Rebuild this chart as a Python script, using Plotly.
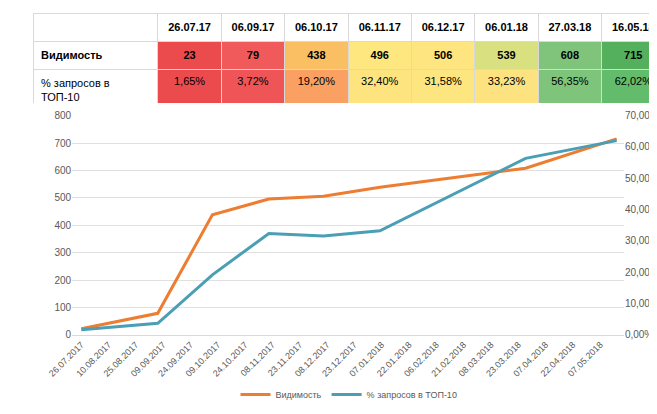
import plotly.graph_objects as go

dates = ["2017-07-26", "2017-09-06", "2017-10-06", "2017-11-06", "2017-12-06", "2018-01-06", "2018-03-27", "2018-05-16"]
col_labels = ["26.07.17", "06.09.17", "06.10.17", "06.11.17", "06.12.17", "06.01.18", "27.03.18", "16.05.18"]
vis = [23, 79, 438, 496, 506, 539, 608, 715]
top10 = [1.65, 3.72, 19.20, 32.40, 31.58, 33.23, 56.35, 62.02]
pos = [90.28, 62.61, 38.48, 27.41, 40.16, 41.46, 13.96, 11.77]
pct_ticks = [0, 10, 20, 30, 40, 50, 60, 70]

vis_col = ["#ec4b4e", "#f05a5a", "#fbbf63", "#ffe77f", "#ffe580", "#d8e07f", "#80c47b", "#55b05e"]
top_col = ["#ec4b4e", "#ef5456", "#f9a062", "#fde47f", "#fde680", "#fde37f", "#7ec47b", "#63bb6c"]
pos_col = ["#ec4b4e", "#f9a25f", "#fde682", "#b8d87d", "#fde580", "#fde27f", "#72c178", "#62bb6b"]

def fmt(v):
    return f"{v:.2f}".replace(".", ",")

cells = [["<b>Видимость</b>", "% запросов в ТОП-10", "ср. позиция", ""]]
colors = [["white"] * 4]
for i in range(len(dates)):
    cells.append([f"<b>{vis[i]}</b>", fmt(top10[i]) + "%", fmt(pos[i]), ""])
    colors.append([vis_col[i], top_col[i], pos_col[i], "white"])

fig = go.Figure()
fig.add_trace(go.Table(
    domain=dict(x=[0, 1], y=[0.775, 1]),
    columnwidth=[130] + [66] * 8,
    header=dict(values=[""] + [f"<b>{c}</b>" for c in col_labels], fill_color="white",
                line_color="#d9d9d9", height=17, align=["left"] + ["center"] * 8,
                font=dict(family="Liberation Sans", size=11, color="black")),
    cells=dict(values=cells, fill_color=colors, line_color="#d9d9d9", height=18,
               align=["left"] + ["center"] * 8,
               font=dict(family="Liberation Sans", size=11, color="black")),
))
fig.add_trace(go.Scatter(x=dates, y=vis, mode="lines", name="Видимость",
                         line=dict(color="#ed7d31", width=3)))
fig.add_trace(go.Scatter(x=dates, y=top10, mode="lines", name="% запросов в ТОП-10",
                         line=dict(color="#4a9fb5", width=3), yaxis="y2"))

fig.update_layout(
    width=657, height=414, paper_bgcolor="white", plot_bgcolor="white",
    margin=dict(l=0, r=0, t=0, b=0),
    font=dict(family="Liberation Sans", size=10, color="#595959"),
    xaxis=dict(domain=[0.062, 0.935], type="date", range=["2017-07-21", "2018-05-20"],
               tick0="2017-07-26", dtick=15 * 86400000, tickformat="%d.%m.%Y",
               tickangle=-45, showgrid=False, showline=True, linecolor="#d9d9d9",
               tickfont=dict(size=9)),
    yaxis=dict(domain=[0.203, 0.746], range=[0, 800], dtick=100, gridcolor="#e0e0e0",
               zeroline=False, anchor="x"),
    yaxis2=dict(overlaying="y", side="right", range=[0, 70], showgrid=False, anchor="x",
                tickvals=pct_ticks, ticktext=[f"{v},00%" for v in pct_ticks]),
    legend=dict(orientation="h", x=0.5, xanchor="center", y=0.02, yanchor="bottom",
                font=dict(size=9)),
)
fig.write_html("out.html")
